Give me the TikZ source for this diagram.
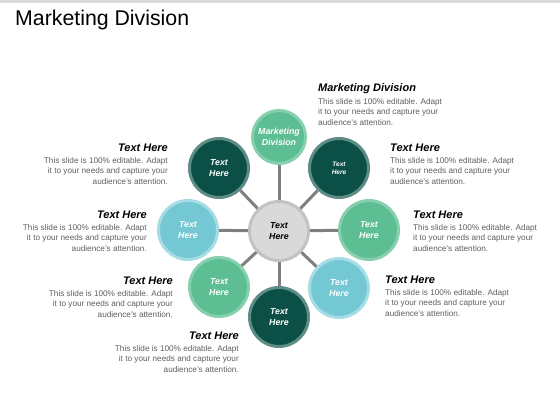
\documentclass[tikz,border=0pt]{standalone}
\usepackage{fontspec}
\setmainfont{Liberation Sans}
\usetikzlibrary{positioning}
\definecolor{Deep}{HTML}{0B4F46}
\definecolor{DeepRing}{HTML}{5E8C86}
\definecolor{Mint}{HTML}{5DBD93}
\definecolor{MintRing}{HTML}{86D0AE}
\definecolor{Sky}{HTML}{73C8D3}
\definecolor{SkyRing}{HTML}{A6DCE4}
\definecolor{Hub}{HTML}{D9D9D9}
\definecolor{HubRing}{HTML}{C2C2C2}
\definecolor{Spoke}{HTML}{7F7F7F}
\definecolor{Blurb}{HTML}{5F5F5F}
\definecolor{Bar}{HTML}{DADADA}
\newcommand\slideblurb{This slide is 100\% editable. Adapt\\it to your needs and capture your\\audience's attention.}

\begin{document}
\begin{tikzpicture}[x=1pt,y=-1pt,
  bubble/.style={circle,line width=3pt,minimum size=59pt,inner sep=0pt,align=center,
   text=white,font=\fontsize{8.8}{10.5}\selectfont\bfseries\itshape},
  deepbub/.style={bubble,fill=Deep,draw=DeepRing},
  mintbub/.style={bubble,fill=Mint,draw=MintRing},
  skybub/.style={bubble,fill=Sky,draw=SkyRing},
  hubbub/.style={bubble,fill=Hub,draw=HubRing,text=black},
  spoke/.style={line width=3pt,draw=Spoke},
  head/.style={inner sep=0pt,font=\fontsize{11}{13}\selectfont\bfseries\itshape},
  blurb/.style={inner sep=0pt,text=Blurb,font=\fontsize{8.2}{10.2}\selectfont}]
  \useasboundingbox (0,0) rectangle (560,420);
  \fill[Bar] (0,0) rectangle (560,3);
  \node[anchor=base west,inner sep=0pt,font=\fontsize{21.3}{25}\selectfont] (title) at (15,26) {Marketing Division};

  % wheel
  \node[hubbub] (hub) at (279,231) {Text\\Here};
  \node[mintbub,minimum size=53pt] (mkt) at (279,137) {Marketing\\Division};
  \node[deepbub] (tl) at (219,168) {Text\\Here};
  \node[deepbub,font=\fontsize{6.5}{8}\selectfont\bfseries\itshape] (tr) at (339,168) {Text\\Here};
  \node[skybub] (lf) at (188,230) {Text\\Here};
  \node[mintbub] (rt) at (369,230) {Text\\Here};
  \node[mintbub] (ll) at (219,287) {Text\\Here};
  \node[skybub] (lr) at (339,288) {Text\\Here};
  \node[deepbub] (bt) at (279,317) {Text\\Here};
  \foreach \n in {mkt,tl,tr,lf,rt,ll,lr,bt}
    \draw[spoke] (hub) -- (\n);

  % right side notes
  \node[head,anchor=base west] (hmkt) at (318,92) {Marketing Division};
  \node[blurb,align=left,below=6.5pt of hmkt.base west,anchor=north west] (dmkt) {\slideblurb};
  \node[head,anchor=base west] (htr) at (390,151) {Text Here};
  \node[blurb,align=left,below=6.5pt of htr.base west,anchor=north west] (dtr) {\slideblurb};
  \node[head,anchor=base west] (hrt) at (413,218) {Text Here};
  \node[blurb,align=left,below=6.5pt of hrt.base west,anchor=north west] (drt) {\slideblurb};
  \node[head,anchor=base west] (hlr) at (385,283) {Text Here};
  \node[blurb,align=left,below=6.5pt of hlr.base west,anchor=north west] (dlr) {\slideblurb};

  % left side notes
  \node[head,anchor=base east] (htl) at (168,151) {Text Here};
  \node[blurb,align=right,below=6.5pt of htl.base east,anchor=north east] (dtl) {\slideblurb};
  \node[head,anchor=base east] (hlf) at (147,218) {Text Here};
  \node[blurb,align=right,below=6.5pt of hlf.base east,anchor=north east] (dlf) {\slideblurb};
  \node[head,anchor=base east] (hll) at (173,284) {Text Here};
  \node[blurb,align=right,below=6.5pt of hll.base east,anchor=north east] (dll) {\slideblurb};
  \node[head,anchor=base east] (hbt) at (239,339) {Text Here};
  \node[blurb,align=right,below=6.5pt of hbt.base east,anchor=north east] (dbt) {\slideblurb};
\end{tikzpicture}
\end{document}
